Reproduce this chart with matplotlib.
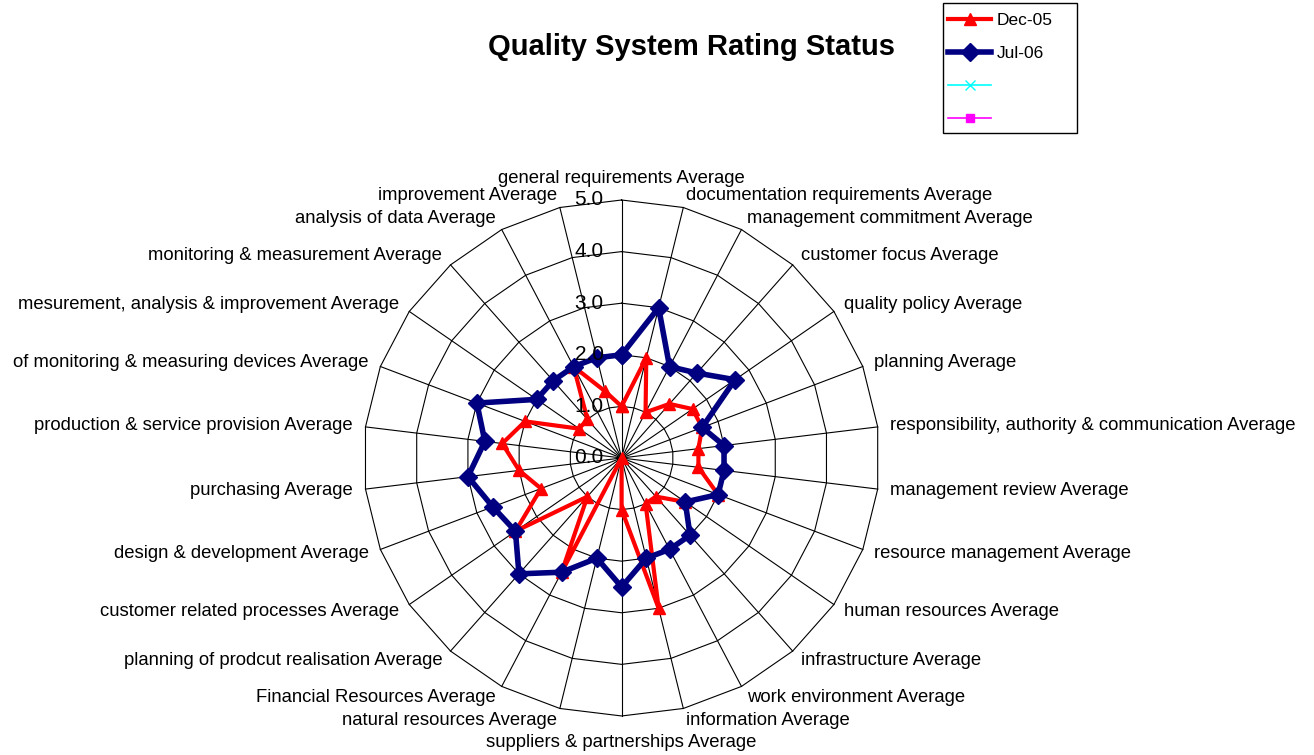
import numpy as np
import matplotlib.pyplot as plt
from matplotlib.lines import Line2D
from matplotlib.patches import Rectangle

plt.rcParams['font.family'] = ['Liberation Sans', 'DejaVu Sans']

categories = [
    "general requirements Average",
    "documentation requirements Average",
    "management commitment Average",
    "customer focus Average",
    "quality policy Average",
    "planning Average",
    "responsibility, authority & communication Average",
    "management review Average",
    "resource management Average",
    "human resources Average",
    "infrastructure Average",
    "work environment Average",
    "information Average",
    "suppliers & partnerships Average",
    "natural resources Average",
    "Financial Resources Average",
    "planning of prodcut realisation Average",
    "customer related processes Average",
    "design & development Average",
    "purchasing Average",
    "production & service provision Average",
    "of monitoring & measuring devices Average",
    "mesurement, analysis & improvement Average",
    "monitoring & measurement Average",
    "analysis of data Average",
    "improvement Average",
]

dec05 = [1.0, 2.0, 1.0, 1.4, 1.67, 1.67, 1.5, 1.5, 2.0, 1.5, 1.0, 1.0, 3.0,
         1.0, 0.0, 2.5, 1.0, 2.5, 1.67, 2.0, 2.33, 2.0, 1.0, 1.0, 2.0, 1.33]
jul06 = [2.0, 3.0, 2.0, 2.2, 2.67, 1.67, 2.0, 2.0, 2.0, 1.5, 2.0, 2.0, 2.0,
         2.5, 2.0, 2.5, 3.0, 2.5, 2.67, 3.0, 2.67, 3.0, 2.0, 2.0, 2.0, 2.0]
rings = [0.0, 1.0, 2.0, 3.0, 4.0, 5.0]

fig = plt.figure(figsize=(13.14, 7.55), dpi=100)
ax = fig.add_axes([0.2767, 0.0517, 0.3927, 0.6834], projection='polar')
ax.set_theta_offset(np.pi / 2)
ax.set_theta_direction(-1)
ax.set_ylim(0, 5)
ax.set_xticks([])
ax.set_yticks([])
ax.grid(False)
ax.spines['polar'].set_visible(False)

theta = np.linspace(0, 2 * np.pi, len(categories), endpoint=False)
closed = np.append(theta, theta[0])

# polygon gridlines and spokes, like the excel radar
for v in rings[1:]:
    ax.plot(closed, [v] * len(closed), color='black', lw=0.8, zorder=1, clip_on=False)
for t in theta:
    ax.plot([t, t], [0, 5], color='black', lw=0.8, zorder=1, clip_on=False)

ax.plot(closed, dec05 + dec05[:1], color='red', lw=3, marker='^', ms=8.5, zorder=3, clip_on=False)
ax.plot(closed, jul06 + jul06[:1], color='#000080', lw=4, marker='D', ms=9.5, zorder=4, clip_on=False)

for v in rings:
    ax.annotate("%.1f" % v, xy=(0, v), xytext=(-13, 0), textcoords='offset points',
                ha='right', va='center', fontsize=15, zorder=5, annotation_clip=False)

for t, lab in zip(theta, categories):
    s, c = np.sin(t), np.cos(t)
    ha = 'center' if abs(s) < 0.05 else ('left' if s > 0 else 'right')
    va = 'bottom' if c > 0.99 else ('top' if c < -0.99 else 'center')
    pad = 13 if c < -0.99 else 9
    ax.annotate(lab, xy=(t, 5), xytext=(s * pad, c * pad), textcoords='offset points',
                ha=ha, va=va, fontsize=13.3, annotation_clip=False)

fig.text(692 / 1314, 1 - 47 / 755, "Quality System Rating Status", ha='center', va='center',
         fontsize=21, fontweight='bold')

handles = [
    Line2D([], [], color='red', lw=3, marker='^', ms=8),
    Line2D([], [], color='#000080', lw=4, marker='D', ms=9),
    Line2D([], [], color='#00FFFF', lw=1.2, marker='x', ms=7),
    Line2D([], [], color='#FF00FF', lw=1.2, marker='s', ms=6),
]
fig.legend(handles, ["Dec-05", "Jul-06", "", ""], loc='upper left',
           bbox_to_anchor=(948 / 1314, 1 - 13 / 755), frameon=False, fontsize=12.5,
           borderpad=0, borderaxespad=0, labelspacing=1.02, handlelength=2.5,
           handletextpad=0.3)
fig.add_artist(Rectangle((943 / 1314, 1 - 133 / 755), 134 / 1314, 130 / 755,
                         transform=fig.transFigure, fill=False, ec='black', lw=1))

fig.savefig("out.png", dpi=100)
